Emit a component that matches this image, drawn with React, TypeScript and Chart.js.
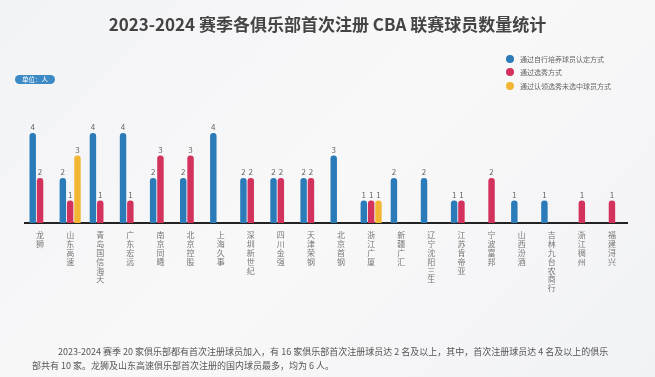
import React, { useEffect, useRef } from "react";
import { Chart, registerables } from "chart.js";
Chart.register(...registerables);

const clubs = ["龙狮","山东高速","青岛国信海天","广东宏远","南京同曦","北京控股","上海久事","深圳新世纪","四川金强","天津荣钢","北京首钢","浙江广厦","新疆广汇","辽宁沈阳三生","江苏肯帝亚","宁波富邦","山西汾酒","吉林九台农商行","浙江稠州","福建浔兴"];
const selfTrained = [4, 2, 4, 4, 2, 2, 4, 2, 2, 2, 3, 1, 2, 2, 1, null, 1, 1, null, null];
const drafted = [2, 1, 1, 1, 3, 3, null, 2, 2, 2, null, 1, null, null, 1, 2, null, null, 1, 1];
const claimed = [null, 3, null, null, null, null, null, null, null, null, null, 1, null, null, null, null, null, null, null, null];
const seriesNames = ["通过自行培养球员认定方式", "通过选秀方式", "通过认领选秀未选中球员方式"];
const seriesColors = ["#2b7bb9", "#d3325c", "#f2b634"];
const title = "2023-2024 赛季各俱乐部首次注册 CBA 联赛球员数量统计";
const unitLabel = "单位：人";
const noteLines = [
  "2023-2024 赛季 20 家俱乐部都有首次注册球员加入，有 16 家俱乐部首次注册球员达 2 名及以上，其中，首次注册球员达 4 名及以上的俱乐",
  "部共有 10 家。龙狮及山东高速俱乐部首次注册的国内球员最多，均为 6 人。",
];

const FONT = '"Noto Sans CJK SC", "Noto Sans", sans-serif';

const valueLabels = {
  id: "valueLabels",
  afterDatasetsDraw(chart: any) {
    const ctx = chart.ctx;
    ctx.save();
    ctx.font = `8px ${FONT}`;
    ctx.fillStyle = "#666";
    ctx.textAlign = "center";
    ctx.textBaseline = "bottom";
    chart.data.datasets.forEach((ds: any, i: number) => {
      const meta = chart.getDatasetMeta(i);
      meta.data.forEach((el: any, j: number) => {
        const v = ds.data[j];
        if (v === null || v === undefined) return;
        ctx.fillText(String(v), el.x, el.y - 2);
      });
    });
    ctx.restore();
  },
};

export default function App() {
  const ref = useRef<HTMLCanvasElement>(null);
  useEffect(() => {
    const data = [selfTrained, drafted, claimed];
    const chart = new Chart(ref.current!, {
      type: "bar",
      data: {
        labels: clubs.map((c) => c.split("")),
        datasets: data.map((d, i) => ({
          label: seriesNames[i],
          data: d,
          backgroundColor: seriesColors[i],
          borderRadius: 3,
          borderSkipped: "bottom",
          categoryPercentage: 0.73,
          barPercentage: 0.88,
        })),
      },
      options: {
        responsive: false,
        animation: false,
        layout: { padding: { left: 25, right: 28, top: 133, bottom: 4 } },
        plugins: { legend: { display: false }, tooltip: { enabled: false }, title: { display: false } },
        scales: {
          y: { display: false, min: 0, max: 4 },
          x: {
            grid: { display: false, drawTicks: false },
            border: { display: true, color: "#222", width: 2 },
            ticks: {
              autoSkip: false,
              maxRotation: 0,
              minRotation: 0,
              padding: 8,
              color: "#777",
              font: { family: FONT, size: 8, lineHeight: 1.1 },
            },
            afterFit: (scale: any) => {
              scale.height = 150;
            },
          },
        },
      },
      plugins: [valueLabels],
    } as any);
    return () => chart.destroy();
  }, []);

  return (
    <div
      style={{
        position: "fixed",
        left: 0,
        top: 0,
        width: 655,
        height: 377,
        overflow: "hidden",
        background: "linear-gradient(135deg, #f2f3f5 0%, #f8f8f9 50%, #f1f2f4 100%)",
        fontFamily: FONT,
      }}
    >
      <canvas ref={ref} width={655} height={377} style={{ position: "absolute", left: 0, top: 0 }} />
      <div
        style={{
          position: "absolute",
          left: 0,
          top: 12,
          width: 655,
          textAlign: "center",
          fontSize: 17,
          fontWeight: 700,
          color: "#444",
          lineHeight: "24px",
        }}
      >
        {title}
      </div>
      <div
        style={{
          position: "absolute",
          left: 15,
          top: 75,
          width: 40,
          height: 9,
          borderRadius: 5,
          background: "#3b8ac6",
          color: "#fff",
          fontSize: 6.5,
          lineHeight: "9px",
          textAlign: "center",
        }}
      >
        {unitLabel}
      </div>
      {seriesNames.map((n, i) => (
        <div
          key={n}
          style={{
            position: "absolute",
            left: 506,
            top: 54 + i * 13.5,
            height: 9,
            display: "flex",
            alignItems: "center",
            fontSize: 7,
            color: "#666",
            whiteSpace: "nowrap",
          }}
        >
          <span
            style={{
              display: "inline-block",
              width: 8,
              height: 8,
              borderRadius: 4,
              background: seriesColors[i],
              marginRight: 6,
            }}
          />
          {n}
        </div>
      ))}
      <div
        style={{
          position: "absolute",
          left: 32,
          top: 345,
          width: 600,
          fontSize: 9,
          lineHeight: "14px",
          color: "#555",
          whiteSpace: "nowrap",
        }}
      >
        <div style={{ paddingLeft: 26 }}>{noteLines[0]}</div>
        <div>{noteLines[1]}</div>
      </div>
    </div>
  );
}
